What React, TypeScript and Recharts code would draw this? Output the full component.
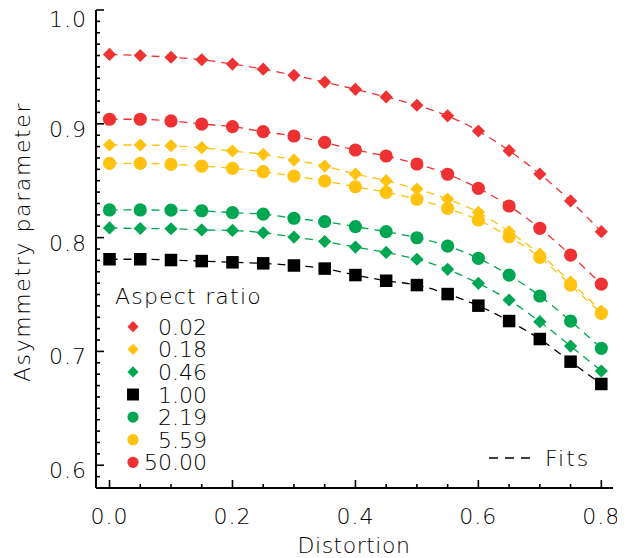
import React from 'react';
import { ComposedChart, Line, Scatter, XAxis, YAxis } from 'recharts';

// Distortion values sampled along the x axis
const distortion = [0, 0.05, 0.1, 0.15, 0.2, 0.25, 0.3, 0.35, 0.4, 0.45, 0.5, 0.55, 0.6, 0.65, 0.7, 0.75, 0.8];

// Asymmetry parameter for each aspect ratio
const ar002 = [0.961, 0.960, 0.9585, 0.9563, 0.9525, 0.948, 0.9426, 0.9367, 0.9303, 0.9236, 0.9163, 0.907, 0.8937, 0.8764, 0.8559, 0.8322, 0.8052];
const ar018 = [0.8814, 0.8814, 0.8808, 0.879, 0.8761, 0.8732, 0.8682, 0.8629, 0.8559, 0.85, 0.8427, 0.8339, 0.8222, 0.8052, 0.7856, 0.761, 0.7355];
const ar046 = [0.8085, 0.808, 0.8078, 0.8068, 0.8063, 0.8043, 0.8005, 0.7966, 0.7917, 0.787, 0.781, 0.7721, 0.7598, 0.7452, 0.7261, 0.7047, 0.6828];
const ar100 = [0.781, 0.781, 0.7803, 0.7794, 0.7783, 0.7774, 0.7755, 0.7728, 0.7671, 0.7621, 0.7583, 0.7504, 0.7402, 0.7267, 0.7109, 0.691, 0.6714];
const ar219 = [0.8243, 0.8243, 0.8241, 0.8236, 0.8219, 0.8207, 0.817, 0.814, 0.8096, 0.8052, 0.7999, 0.7926, 0.7818, 0.7671, 0.7487, 0.7267, 0.7027];
const ar559 = [0.8653, 0.8653, 0.8644, 0.8629, 0.8609, 0.8579, 0.8541, 0.8497, 0.8447, 0.8398, 0.8337, 0.8257, 0.8155, 0.8008, 0.7827, 0.7583, 0.7335];
const ar5000 = [0.904, 0.904, 0.9025, 0.8998, 0.8975, 0.8931, 0.8893, 0.8837, 0.877, 0.8717, 0.8647, 0.8557, 0.8433, 0.8278, 0.8082, 0.7847, 0.7592];

const aspectLabels = ['0.02', '0.18', '0.46', '1.00', '2.19', '5.59', '50.00'];

// Axis ticks
const xTicks = [0, 0.05, 0.1, 0.15, 0.2, 0.25, 0.3, 0.35, 0.4, 0.45, 0.5, 0.55, 0.6, 0.65, 0.7, 0.75, 0.8];
const xMajorStep = 0.2;
const yMajorStep = 0.1;
const xDomain: [number, number] = [-0.022, 0.819];
const yDomain: [number, number] = [0.58, 1.0];
const yTicks = Array.from({ length: 43 }, (_, i) => Math.round((0.58 + i * 0.01) * 100) / 100);

const RED = '#ee3234';
const YELLOW = '#ffc20e';
const GREEN = '#00a651';
const BLACK = '#000000';
const TEXT = '#000000';
const FONT = '"DejaVu Sans", sans-serif';
const WEIGHT = 200;

type Shape = 'diamond' | 'square' | 'circle';

const series: { key: string; label: string; color: string; shape: Shape; values: number[] }[] = [
  { key: 'a002', label: aspectLabels[0], color: RED, shape: 'diamond', values: ar002 },
  { key: 'a018', label: aspectLabels[1], color: YELLOW, shape: 'diamond', values: ar018 },
  { key: 'a046', label: aspectLabels[2], color: GREEN, shape: 'diamond', values: ar046 },
  { key: 'a100', label: aspectLabels[3], color: BLACK, shape: 'square', values: ar100 },
  { key: 'a219', label: aspectLabels[4], color: GREEN, shape: 'circle', values: ar219 },
  { key: 'a559', label: aspectLabels[5], color: YELLOW, shape: 'circle', values: ar559 },
  { key: 'a5000', label: aspectLabels[6], color: RED, shape: 'circle', values: ar5000 },
];

const rows = distortion.map((d, i) => {
  const r: Record<string, number> = { d };
  series.forEach((s) => {
    r[s.key] = s.values[i];
  });
  return r;
});

function Marker({ cx, cy, shape, color, s }: { cx: number; cy: number; shape: Shape; color: string; s: number }) {
  if (cx == null || cy == null) return null;
  if (shape === 'diamond') {
    return <polygon points={`${cx},${cy - s} ${cx + s},${cy} ${cx},${cy + s} ${cx - s},${cy}`} fill={color} />;
  }
  if (shape === 'square') {
    const h = s * 0.92;
    return <rect x={cx - h} y={cy - h} width={2 * h} height={2 * h} fill={color} />;
  }
  return <circle cx={cx} cy={cy} r={s} fill={color} />;
}

const isMajor = (v: number, step: number) => Math.abs(v / step - Math.round(v / step)) < 1e-6;

const MAJOR = 8;
const MINOR = 4;
const TICK_W = 1.6;

const textProps = { fontSize: 22, fontFamily: FONT, fontWeight: WEIGHT, fill: TEXT };

function BottomTick(props: any) {
  const { x, y, payload } = props;
  const major = isMajor(payload.value, xMajorStep);
  return (
    <g>
      <line x1={x} y1={y} x2={x} y2={y - (major ? MAJOR : MINOR)} stroke="#000" strokeWidth={TICK_W} />
      {major && (
        <text x={x} y={y + 36} textAnchor="middle" letterSpacing={1} {...textProps}>
          {payload.value.toFixed(1)}
        </text>
      )}
    </g>
  );
}

function TopTick(props: any) {
  const { x, y, payload } = props;
  const major = isMajor(payload.value, xMajorStep);
  return <line x1={x} y1={y} x2={x} y2={y + (major ? MAJOR : MINOR)} stroke="#000" strokeWidth={TICK_W} />;
}

function LeftTick(props: any) {
  const { x, y, payload } = props;
  const major = isMajor(payload.value, yMajorStep);
  const top = payload.value >= yDomain[1] - 1e-9;
  return (
    <g>
      <line x1={x} y1={y} x2={x + (major ? MAJOR : MINOR)} y2={y} stroke="#000" strokeWidth={TICK_W} />
      {major && (
        <text x={x - 9} y={y + (top ? 17 : 13)} textAnchor="end" letterSpacing={1} {...textProps}>
          {payload.value.toFixed(1)}
        </text>
      )}
    </g>
  );
}

function RightTick(props: any) {
  const { x, y, payload } = props;
  const major = isMajor(payload.value, yMajorStep);
  return <line x1={x} y1={y} x2={x - (major ? MAJOR : MINOR)} y2={y} stroke="#000" strokeWidth={TICK_W} />;
}

function LegendBlock() {
  const rowY = (i: number) => 318.7 + i * 22.6;
  return (
    <g>
      <text x={107} y={296} letterSpacing={1.2} {...textProps}>
        Aspect ratio
      </text>
      {series.map((s, i) => (
        <g key={s.key}>
          <Marker cx={125} cy={rowY(i)} shape={s.shape} color={s.color} s={s.shape === 'square' ? 6.5 : 5.6} />
          <text x={199} y={rowY(i) + 8} textAnchor="end" {...textProps}>
            {s.label}
          </text>
        </g>
      ))}
      <line x1={481} y1={450} x2={524} y2={450} stroke="#000" strokeWidth={1.3} strokeDasharray="9 7" />
      <text x={537} y={458} letterSpacing={2} {...textProps}>
        Fits
      </text>
      <text x={346} y={545} textAnchor="middle" letterSpacing={0.5} {...textProps}>
        Distortion
      </text>
      <text x={22} y={234} transform="rotate(-90 22 234)" textAnchor="middle" letterSpacing={1.6} {...textProps}>
        Asymmetry parameter
      </text>
    </g>
  );
}

export default function App() {
  const axisLine = { stroke: '#000', strokeWidth: 2 };
  return (
    <ComposedChart width={617} height={550} data={rows} margin={{ top: 2, right: 12, bottom: 0, left: 0 }}>
      <XAxis
        dataKey="d"
        type="number"
        domain={xDomain}
        allowDataOverflow
        ticks={xTicks}
        interval={0}
        height={70}
        tickSize={0}
        tickMargin={0}
        axisLine={axisLine}
        tickLine={false}
        tick={<BottomTick />}
      />
      <XAxis
        xAxisId="top"
        orientation="top"
        dataKey="d"
        type="number"
        domain={xDomain}
        allowDataOverflow
        ticks={xTicks}
        interval={0}
        height={0}
        tickSize={0}
        tickMargin={0}
        axisLine={axisLine}
        tickLine={false}
        tick={<TopTick />}
      />
      <YAxis
        type="number"
        domain={yDomain}
        allowDataOverflow
        ticks={yTicks}
        interval={0}
        width={88}
        tickSize={0}
        tickMargin={0}
        axisLine={axisLine}
        tickLine={false}
        tick={<LeftTick />}
      />
      <YAxis
        yAxisId="right"
        orientation="right"
        type="number"
        domain={yDomain}
        allowDataOverflow
        ticks={yTicks}
        interval={0}
        width={0}
        tickSize={0}
        tickMargin={0}
        axisLine={axisLine}
        tickLine={false}
        tick={<RightTick />}
      />
      {series.map((s) => (
        <Scatter
          key={`pts-${s.key}`}
          dataKey={s.key}
          isAnimationActive={false}
          shape={(p: any) => <Marker cx={p.cx} cy={p.cy} shape={s.shape} color={s.color} s={s.shape === 'square' ? 6.8 : 6.6} />}
        />
      ))}
      {series.map((s) => (
        <Line
          key={`fit-${s.key}`}
          dataKey={s.key}
          type="monotone"
          stroke={s.color}
          strokeWidth={1.3}
          strokeDasharray="8 6"
          dot={false}
          activeDot={false}
          isAnimationActive={false}
        />
      ))}
      <LegendBlock />
    </ComposedChart>
  );
}
